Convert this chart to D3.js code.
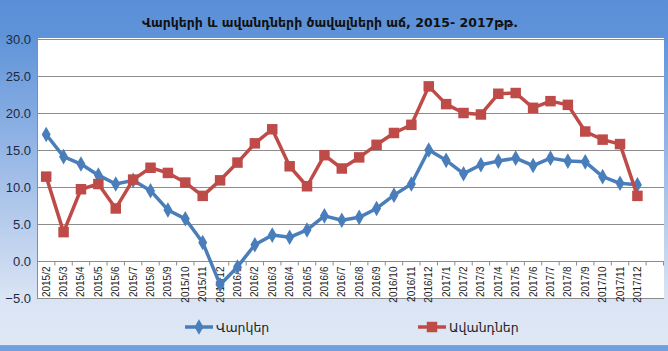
<!DOCTYPE html>
<html>
<head>
<meta charset="utf-8">
<script src="https://cdn.jsdelivr.net/npm/d3@7"></script>
<style>
  html, body { margin: 0; padding: 0; background: #fff; }
  svg { display: block; }
</style>
</head>
<body>
<div id="chart"></div>
<script>
(function() {
    const width = 668;
    const height = 351;
    const plot = { left: 37, right: 664, top: 38, bottom: 298 };

    const months = ["2015/2", "2015/3", "2015/4", "2015/5", "2015/6", "2015/7", "2015/8", "2015/9", "2015/10", "2015/11", "2015/12",
        "2016/1", "2016/2", "2016/3", "2016/4", "2016/5", "2016/6", "2016/7", "2016/8", "2016/9", "2016/10", "2016/11", "2016/12",
        "2017/1", "2017/2", "2017/3", "2017/4", "2017/5", "2017/6", "2017/7", "2017/8", "2017/9", "2017/10", "2017/11", "2017/12"];

    // Վարկեր
    const loans = [17.1, 14.1, 13.1, 11.6, 10.4, 10.9, 9.5, 6.9, 5.7, 2.5, -3.2,
        -0.8, 2.2, 3.5, 3.2, 4.2, 6.1, 5.5, 5.9, 7.1, 8.9, 10.4, 15.0,
        13.6, 11.8, 13.0, 13.5, 13.9, 12.9, 13.9, 13.5, 13.4, 11.4, 10.5, 10.3];

    // Ավանդներ
    const deposits = [11.4, 3.9, 9.7, 10.4, 7.1, 11.0, 12.6, 11.9, 10.6, 8.8, 10.9,
        13.3, 15.9, 17.8, 12.8, 10.1, 14.3, 12.5, 14.0, 15.7, 17.3, 18.4, 23.6,
        21.2, 20.0, 19.8, 22.6, 22.7, 20.7, 21.6, 21.1, 17.5, 16.4, 15.8, 8.8];

    const yTicks = [-5, 0, 5, 10, 15, 20, 25, 30];

    const series = [
        { name: "Վարկեր", values: loans, color: "#4a7ebb", marker: d3.symbolDiamond, size: 70, legendX: 185 },
        { name: "Ավանդներ", values: deposits, color: "#be4b48", marker: d3.symbolSquare, size: 110, legendX: 418 }
    ];

    const svg = d3.select("#chart").append("svg")
        .attr("width", width).attr("height", height);

    // fond dégradé
    const grad = svg.append("defs").append("linearGradient")
        .attr("id", "bg").attr("x1", 0).attr("y1", 0).attr("x2", 0).attr("y2", 1);
    grad.append("stop").attr("offset", "0%").attr("stop-color", "#5a8ed6");
    grad.append("stop").attr("offset", "10%").attr("stop-color", "#5f93d9");
    grad.append("stop").attr("offset", "55%").attr("stop-color", "#a9c3ea");
    grad.append("stop").attr("offset", "85%").attr("stop-color", "#dae4f4");
    grad.append("stop").attr("offset", "100%").attr("stop-color", "#dfe8f5");

    svg.append("rect").attr("width", width).attr("height", height).attr("fill", "url(#bg)");
    svg.append("rect").attr("x", 0).attr("y", 345).attr("width", width).attr("height", 6).attr("fill", "#71a0dd");
    svg.append("line").attr("x1", 0).attr("x2", width).attr("y1", 345.5).attr("y2", 345.5).attr("stroke", "#8ea3bd");

    svg.append("text")
        .attr("x", 330).attr("y", 27)
        .attr("text-anchor", "middle")
        .attr("font-family", "DejaVu Sans, sans-serif")
        .attr("font-size", "12.5px").attr("font-weight", "bold")
        .attr("fill", "#111")
        .text("Վարկերի և ավանդների ծավալների աճ, 2015- 2017թթ.");

    // une case vide en fin d'axe, comme dans Excel
    const x = d3.scaleBand().domain(months.concat([""])).range([plot.left + 0.5, plot.right - 0.5]);
    const y = d3.scaleLinear().domain([-5, 30]).range([plot.bottom, plot.top + 1]);
    const cx = d => x(d) + x.bandwidth() / 2;

    svg.append("rect")
        .attr("x", plot.left).attr("y", plot.top)
        .attr("width", plot.right - plot.left).attr("height", plot.bottom - plot.top)
        .attr("fill", "#fff");

    // grille + axe Y
    const yAxis = svg.append("g")
        .attr("transform", `translate(${plot.left},0)`)
        .call(d3.axisLeft(y).tickValues(yTicks).tickFormat(d3.format(".1f")).tickSize(0).tickPadding(6));
    yAxis.select(".domain").remove();
    yAxis.selectAll("text")
        .attr("font-family", "Liberation Sans, Arial, sans-serif")
        .attr("font-size", "13px").attr("fill", "#1c2a44");

    svg.append("g").selectAll("line")
        .data(yTicks)
        .join("line")
        .attr("x1", plot.left).attr("x2", plot.right)
        .attr("y1", d => Math.round(y(d)) + 0.5).attr("y2", d => Math.round(y(d)) + 0.5)
        .attr("stroke", "#8c8c8c").attr("stroke-width", 1);

    svg.append("line")
        .attr("x1", plot.left + 0.5).attr("x2", plot.left + 0.5)
        .attr("y1", plot.top).attr("y2", plot.bottom)
        .attr("stroke", "#8c8c8c");

    // axe X à zéro
    const y0 = Math.round(y(0)) + 0.5;
    svg.append("g").selectAll("line")
        .data(x.domain().concat(["end"]))
        .join("line")
        .attr("x1", (d, i) => plot.left + 0.5 + i * x.step())
        .attr("x2", (d, i) => plot.left + 0.5 + i * x.step())
        .attr("y1", y0).attr("y2", y0 + 4)
        .attr("stroke", "#8c8c8c");

    svg.append("g").selectAll("text")
        .data(months)
        .join("text")
        .attr("transform", d => `translate(${cx(d) + 3.5},${y0 + 5}) rotate(-90)`)
        .attr("text-anchor", "end")
        .attr("font-family", "Liberation Sans, Arial, sans-serif")
        .attr("font-size", "10px").attr("fill", "#222")
        .text(d => d);

    const line = d3.line()
        .x((d, i) => cx(months[i]))
        .y(d => y(d));

    series.forEach(s => {
        svg.append("path")
            .datum(s.values)
            .attr("fill", "none")
            .attr("stroke", s.color).attr("stroke-width", 3.5)
            .attr("stroke-linejoin", "round")
            .attr("d", line);

        svg.append("g").selectAll("path")
            .data(s.values)
            .join("path")
            .attr("transform", (d, i) => `translate(${cx(months[i])},${y(d)})`)
            .attr("d", d3.symbol(s.marker, s.size))
            .attr("fill", s.color);

        const lg = svg.append("g").attr("transform", `translate(${s.legendX},327)`);
        lg.append("line").attr("x1", 0).attr("x2", 28)
            .attr("stroke", s.color).attr("stroke-width", 3.5);
        lg.append("path").attr("transform", "translate(14,0)")
            .attr("d", d3.symbol(s.marker, s.size)).attr("fill", s.color);
        lg.append("text").attr("x", 31).attr("y", 4.5)
            .attr("font-family", "DejaVu Sans, sans-serif")
            .attr("font-size", "12.5px").attr("fill", "#222")
            .text(s.name);
    });
})();
</script>
</body>
</html>
